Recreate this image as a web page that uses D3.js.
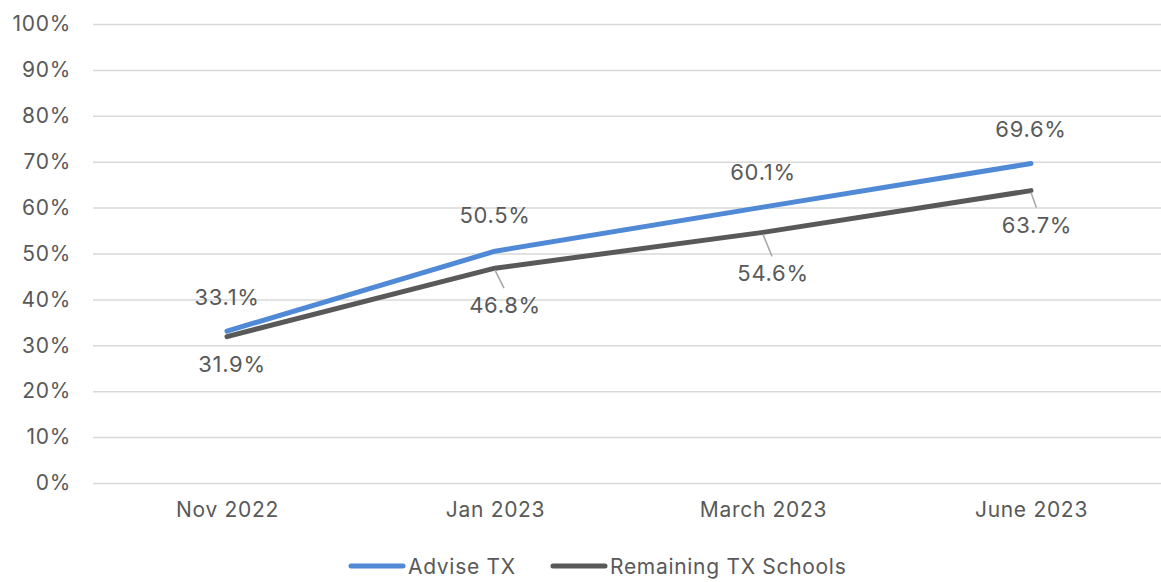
<!DOCTYPE html>
<html>
<head>
<meta charset="utf-8">
<script src="https://cdn.jsdelivr.net/npm/d3@7"></script>
<style>
  body { margin: 0; background: #fff; }
  text { font-family: Inter, "Noto Sans", sans-serif; fill: #595959; letter-spacing: 0.7px; }
</style>
</head>
<body>
<div id="chart"></div>
<script>
const WIDTH = 1161;
const HEIGHT = 582;

const categories = ["Nov 2022", "Jan 2023", "March 2023", "June 2023"];
const adviseTX = [33.1, 50.5, 60.1, 69.6];
const remainingTX = [31.9, 46.8, 54.6, 63.7];
const yTicks = [0, 10, 20, 30, 40, 50, 60, 70, 80, 90, 100];

const series = [
  { name: "Advise TX", values: adviseTX, color: "#5089D6", above: true },
  { name: "Remaining TX Schools", values: remainingTX, color: "#595959", above: false }
];

const svg = d3.select("#chart").append("svg")
  .attr("width", WIDTH)
  .attr("height", HEIGHT);

const x = d3.scalePoint().domain(categories).range([93, 1165]).padding(0.5);
const y = d3.scaleLinear().domain([0, 100]).range([483, 24]);

// grid + y labels
const yAxis = svg.append("g")
  .attr("transform", "translate(93,0)")
  .call(d3.axisLeft(y).tickValues(yTicks).tickFormat(d => d + "%")
    .tickSize(-(WIDTH - 93)).tickPadding(22));
yAxis.select(".domain").remove();
yAxis.selectAll("line").attr("stroke", "#d9d9d9").attr("stroke-width", 1.5);
yAxis.selectAll("text").style("font-size", "21px").attr("fill", "#595959");

// x labels
const xAxis = svg.append("g")
  .attr("transform", "translate(0,483)")
  .call(d3.axisBottom(x).tickSize(0).tickPadding(19));
xAxis.select(".domain").remove();
xAxis.selectAll("text").style("font-size", "21px").attr("fill", "#595959");

const line = d3.line()
  .x((d, i) => x(categories[i]))
  .y(d => y(d));

series.forEach(s => {
  svg.append("path")
    .datum(s.values)
    .attr("fill", "none")
    .attr("stroke", s.color)
    .attr("stroke-width", 5)
    .attr("stroke-linecap", "round")
    .attr("stroke-linejoin", "round")
    .attr("d", line);
});

// data labels
const labelOffsets = {
  "Advise TX": [[0, -34], [0, -36], [0, -35], [0, -35]],
  "Remaining TX Schools": [[5, 27], [10, 37], [10, 41], [6, 34]]
};
const leaders = [false, true, true, true];

series.forEach(s => {
  s.values.forEach((v, i) => {
    const px = x(categories[i]);
    const py = y(v);
    const [dx, dy] = labelOffsets[s.name][i];
    if (!s.above && leaders[i]) {
      svg.append("line")
        .attr("x1", px).attr("y1", py + 2)
        .attr("x2", px + dx * 0.9).attr("y2", py + dy - 17)
        .attr("stroke", "#a6a6a6").attr("stroke-width", 1.5);
    }
    svg.append("text")
      .attr("x", px + dx)
      .attr("y", py + dy)
      .attr("text-anchor", "middle")
      .attr("dominant-baseline", "central")
      .style("font-size", "22px")
      .attr("fill", "#404040")
      .text(v.toFixed(1) + "%");
  });
});

// legend
const legend = svg.append("g").attr("transform", "translate(0,566)");
const legendX = [351, 553];
series.forEach((s, i) => {
  const g = legend.append("g").attr("transform", `translate(${legendX[i]},0)`);
  g.append("line")
    .attr("x1", 0).attr("x2", 52)
    .attr("stroke", s.color).attr("stroke-width", 5)
    .attr("stroke-linecap", "round");
  g.append("text")
    .attr("x", 57)
    .attr("dominant-baseline", "central")
    .style("font-size", "21px")
    .text(s.name);
});
</script>
</body>
</html>
